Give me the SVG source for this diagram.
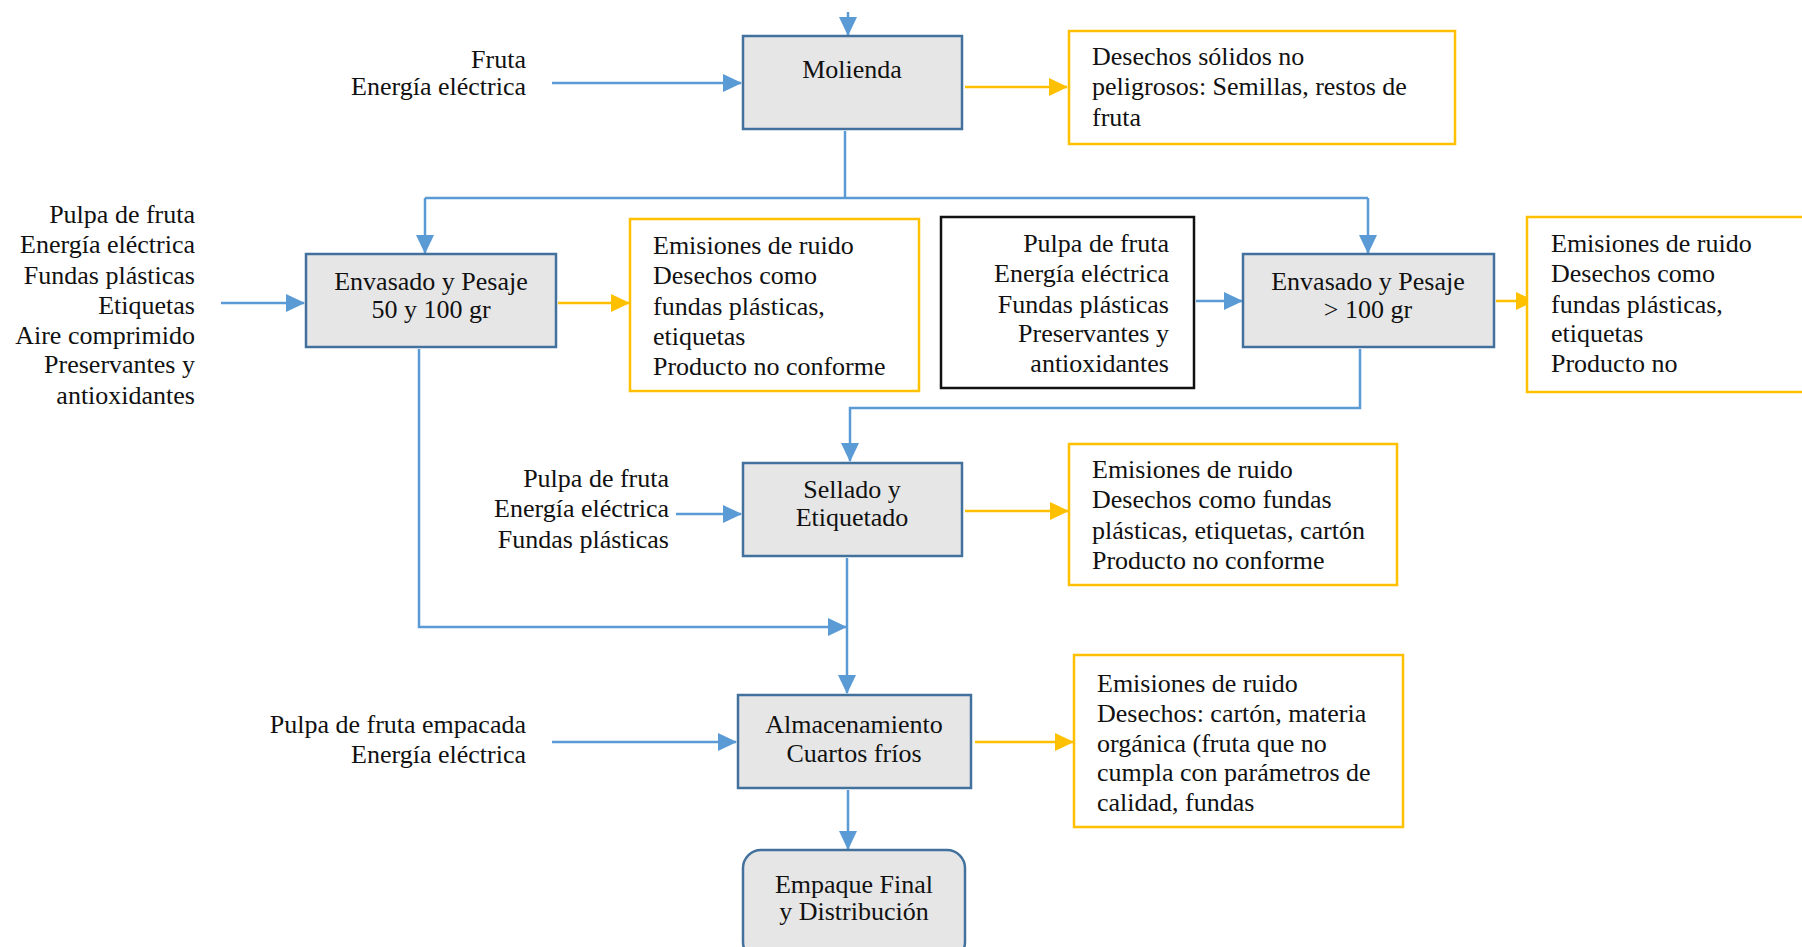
<svg xmlns="http://www.w3.org/2000/svg" width="1802" height="947" viewBox="0 0 1802 947">
<style>
text{font-family:"Liberation Serif","Times New Roman",serif;font-size:26px;fill:#111}
.proc{fill:#E6E6E6;stroke:#41719C;stroke-width:2.5}
.waste{fill:#fff;stroke:#FFC000;stroke-width:2.5}
.inbox{fill:#fff;stroke:#111;stroke-width:2.5}
.b{fill:none;stroke:#5B9BD5;stroke-width:2.5}
.o{fill:none;stroke:#FFC000;stroke-width:2.5}
.c{text-anchor:middle}
.r{text-anchor:end}
</style>
<defs>
<marker id="ab" markerUnits="userSpaceOnUse" markerWidth="19" markerHeight="18" refX="18" refY="9" orient="auto"><path d="M0,0 L19,9 L0,18 Z" fill="#5B9BD5"/></marker>
<marker id="ao" markerUnits="userSpaceOnUse" markerWidth="19" markerHeight="18" refX="18" refY="9" orient="auto"><path d="M0,0 L19,9 L0,18 Z" fill="#FFC000"/></marker>
</defs>
<g id="connectors">
<path class="b" d="M848,12 V35" marker-end="url(#ab)"/>
<path class="b" d="M552,83 H741" marker-end="url(#ab)"/>
<path class="o" d="M965,87 H1067" marker-end="url(#ao)"/>
<path class="b" d="M845,131 V198"/>
<path class="b" d="M425,198 H1368"/>
<path class="b" d="M425,198 V253" marker-end="url(#ab)"/>
<path class="b" d="M1368,198 V253" marker-end="url(#ab)"/>
<path class="b" d="M221,303 H304" marker-end="url(#ab)"/>
<path class="o" d="M558,303 H629" marker-end="url(#ao)"/>
<path class="b" d="M1196,301 H1242" marker-end="url(#ab)"/>
<path class="o" d="M1496,301 H1534" marker-end="url(#ao)"/>
<path class="b" d="M1360,349 V408 H850 V461" marker-end="url(#ab)"/>
<path class="b" d="M676,514 H741" marker-end="url(#ab)"/>
<path class="o" d="M965,511 H1068" marker-end="url(#ao)"/>
<path class="b" d="M419,349 V627 H846" marker-end="url(#ab)"/>
<path class="b" d="M847,558 V693" marker-end="url(#ab)"/>
<path class="b" d="M552,742 H736" marker-end="url(#ab)"/>
<path class="o" d="M975,742 H1073" marker-end="url(#ao)"/>
<path class="b" d="M848,790 V849" marker-end="url(#ab)"/>
</g>
<g id="molienda">
<rect class="proc" x="743" y="36" width="219" height="93"/>
<text class="c" x="852" y="78">Molienda</text>
</g>
<g id="in-molienda">
<text class="r"><tspan x="526" y="68">Fruta</tspan><tspan x="526" y="95">Energía eléctrica</tspan></text>
</g>
<g id="waste-molienda">
<rect class="waste" x="1069" y="31" width="386" height="113"/>
<text><tspan x="1092" y="65">Desechos sólidos no</tspan><tspan x="1092" y="95">peligrosos: Semillas, restos de</tspan><tspan x="1092" y="126">fruta</tspan></text>
</g>
<g id="envasado1">
<rect class="proc" x="306" y="254" width="250" height="93"/>
<text class="c"><tspan x="431" y="290">Envasado y Pesaje</tspan><tspan x="431" y="318">50 y 100 gr</tspan></text>
</g>
<g id="in-envasado1">
<text class="r"><tspan x="195" y="223">Pulpa de fruta</tspan><tspan x="195" y="253">Energía eléctrica</tspan><tspan x="195" y="284">Fundas plásticas</tspan><tspan x="195" y="314">Etiquetas</tspan><tspan x="195" y="344">Aire comprimido</tspan><tspan x="195" y="373">Preservantes y</tspan><tspan x="195" y="404">antioxidantes</tspan></text>
</g>
<g id="waste-envasado1">
<rect class="waste" x="630" y="219" width="289" height="172"/>
<text><tspan x="653" y="254">Emisiones de ruido</tspan><tspan x="653" y="284">Desechos como</tspan><tspan x="653" y="315">fundas plásticas,</tspan><tspan x="653" y="345">etiquetas</tspan><tspan x="653" y="375">Producto no conforme</tspan></text>
</g>
<g id="in-envasado2">
<rect class="inbox" x="941" y="217" width="253" height="171"/>
<text class="r"><tspan x="1169" y="252">Pulpa de fruta</tspan><tspan x="1169" y="282">Energía eléctrica</tspan><tspan x="1169" y="313">Fundas plásticas</tspan><tspan x="1169" y="342">Preservantes y</tspan><tspan x="1169" y="372">antioxidantes</tspan></text>
</g>
<g id="envasado2">
<rect class="proc" x="1243" y="254" width="251" height="93"/>
<text class="c"><tspan x="1368" y="290">Envasado y Pesaje</tspan><tspan x="1368" y="318">&gt; 100 gr</tspan></text>
</g>
<g id="waste-envasado2">
<rect class="waste" x="1527" y="217" width="300" height="175"/>
<text><tspan x="1551" y="252">Emisiones de ruido</tspan><tspan x="1551" y="282">Desechos como</tspan><tspan x="1551" y="313">fundas plásticas,</tspan><tspan x="1551" y="342">etiquetas</tspan><tspan x="1551" y="372">Producto no</tspan></text>
</g>
<g id="sellado">
<rect class="proc" x="743" y="463" width="219" height="93"/>
<text class="c"><tspan x="852" y="498">Sellado y</tspan><tspan x="852" y="526">Etiquetado</tspan></text>
</g>
<g id="in-sellado">
<text class="r"><tspan x="669" y="487">Pulpa de fruta</tspan><tspan x="669" y="517">Energía eléctrica</tspan><tspan x="669" y="548">Fundas plásticas</tspan></text>
</g>
<g id="waste-sellado">
<rect class="waste" x="1069" y="444" width="328" height="141"/>
<text><tspan x="1092" y="478">Emisiones de ruido</tspan><tspan x="1092" y="508">Desechos como fundas</tspan><tspan x="1092" y="539">plásticas, etiquetas, cartón</tspan><tspan x="1092" y="569">Producto no conforme</tspan></text>
</g>
<g id="almacenamiento">
<rect class="proc" x="738" y="695" width="233" height="93"/>
<text class="c"><tspan x="854" y="733">Almacenamiento</tspan><tspan x="854" y="762">Cuartos fríos</tspan></text>
</g>
<g id="in-almacenamiento">
<text class="r"><tspan x="526" y="733">Pulpa de fruta empacada</tspan><tspan x="526" y="763">Energía eléctrica</tspan></text>
</g>
<g id="waste-almacenamiento">
<rect class="waste" x="1074" y="655" width="329" height="172"/>
<text><tspan x="1097" y="692">Emisiones de ruido</tspan><tspan x="1097" y="722">Desechos: cartón, materia</tspan><tspan x="1097" y="752">orgánica (fruta que no</tspan><tspan x="1097" y="781">cumpla con parámetros de</tspan><tspan x="1097" y="811">calidad, fundas</tspan></text>
</g>
<g id="empaque">
<rect class="proc" x="743" y="850" width="222" height="110" rx="18"/>
<text class="c"><tspan x="854" y="893">Empaque Final</tspan><tspan x="854" y="920">y Distribución</tspan></text>
</g>
</svg>
